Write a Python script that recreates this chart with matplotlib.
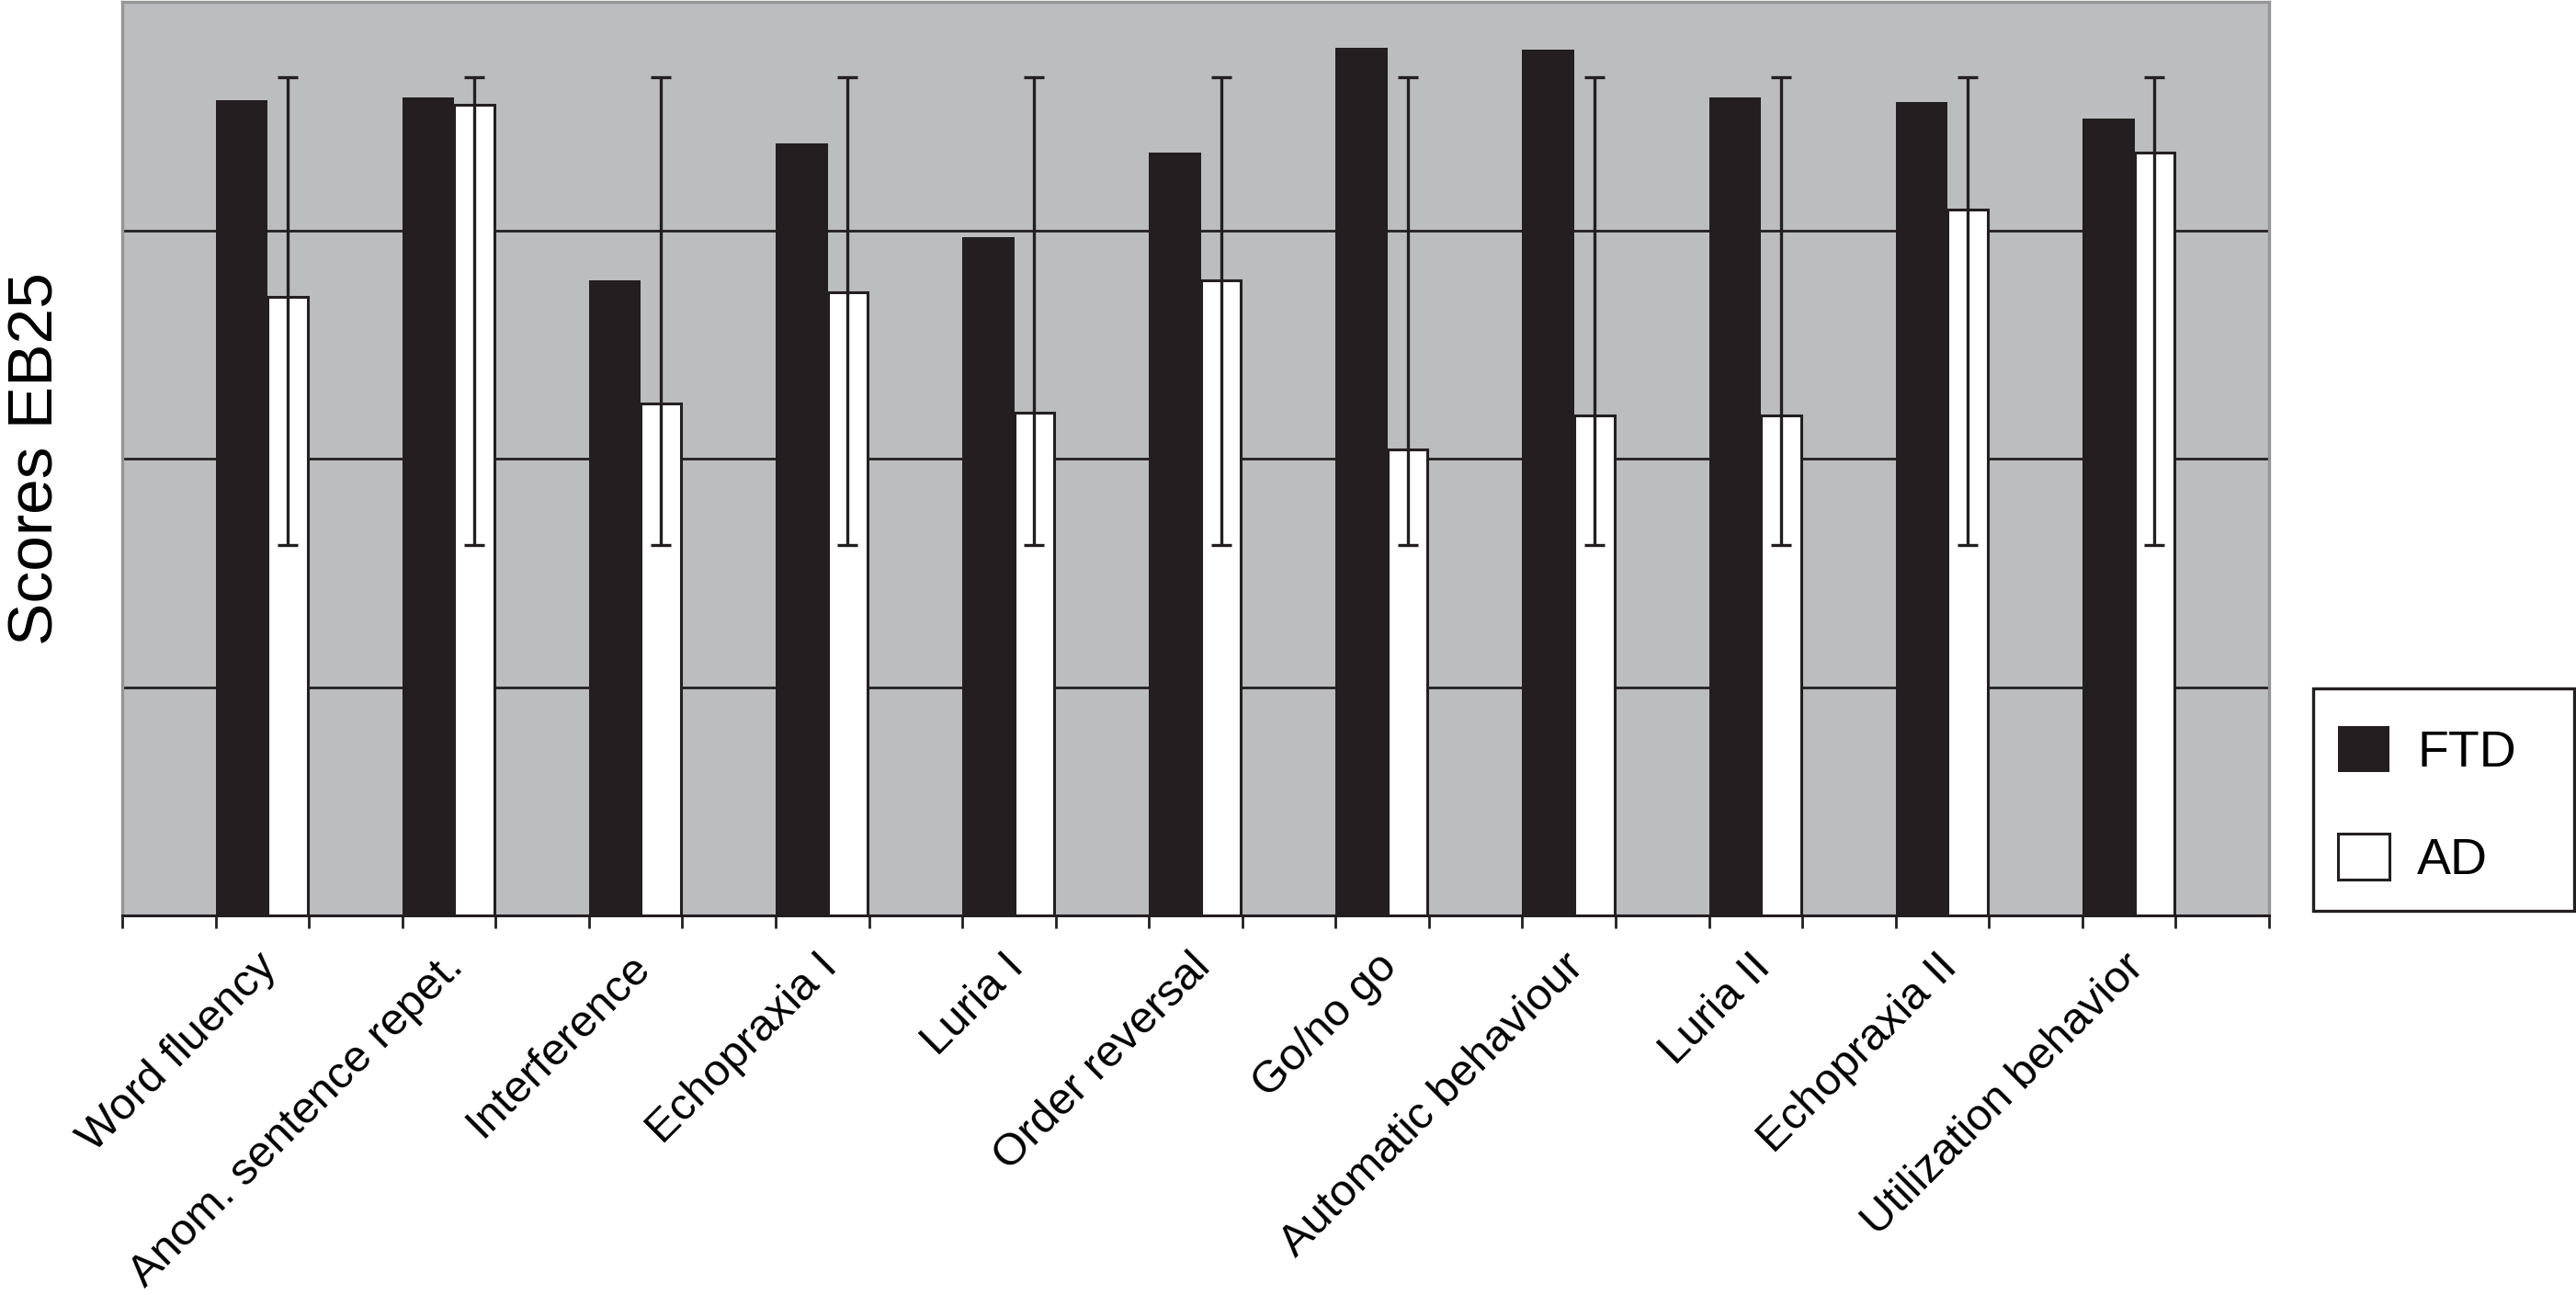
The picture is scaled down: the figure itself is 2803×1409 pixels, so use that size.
import numpy as np
import matplotlib
matplotlib.use("Agg")
import matplotlib.pyplot as plt
from matplotlib.patches import Patch, Rectangle
import matplotlib.transforms as mtransforms

# ---- data ----
categories = ["Word fluency", "Anom. sentence repet.", "Interference", "Echopraxia I",
              "Luria I", "Order reversal", "Go/no go", "Automatic behaviour",
              "Luria II", "Echopraxia II", "Utilization behavior"]
ftd = [3.57, 3.58, 2.78, 3.38, 2.97, 3.34, 3.80, 3.79, 3.58, 3.56, 3.49]
ad = [2.71, 3.55, 2.24, 2.73, 2.20, 2.78, 2.04, 2.19, 2.19, 3.09, 3.34]
err_low = [1.62, 1.62, 1.62, 1.62, 1.62, 1.62, 1.62, 1.62, 1.62, 1.62, 1.62]
err_high = [3.67, 3.67, 3.67, 3.67, 3.67, 3.67, 3.67, 3.67, 3.67, 3.67, 3.67]
series_names = ["FTD", "AD"]

FONT = ["Liberation Sans", "DejaVu Sans"]
plt.rcParams['font.family'] = FONT

W, H = 2803, 1409
DPI = 200
fig = plt.figure(figsize=(W / DPI, H / DPI), dpi=DPI)
ax = fig.add_axes([133 / W, 1 - 996 / H, (2469 - 133) / W, (996 - 2) / H])

dark = "#231f20"
bg = "#bcbdbf"
ax.set_facecolor(bg)

x = np.arange(len(categories))
w_ftd = 0.279
w_ad = 0.214
ax.bar(x - 0.25, ftd, width=w_ftd, align="edge", color=dark, edgecolor=dark,
       linewidth=0, zorder=3)
ax.bar(x - 0.25 + w_ftd, ad, width=w_ad, align="edge", color="white", edgecolor=dark,
       linewidth=1.1, zorder=3)

lo = np.array(err_low)
hi = np.array(err_high)
ctr = (lo + hi) / 2
ax.errorbar(x - 0.25 + w_ftd + w_ad / 2, ctr, yerr=(hi - lo) / 2, fmt="none",
            ecolor=dark, elinewidth=1.2, capsize=3.8, capthick=1.2, zorder=4)

ax.set_xlim(-0.75, len(categories) - 0.25)
ax.set_ylim(0, 4)

# grid
ax.set_yticks([1, 2, 3])
ax.yaxis.grid(True, color=dark, linewidth=1.0)
ax.set_axisbelow(True)
ax.tick_params(axis="y", left=False, labelleft=False)

# x ticks at group edges
edges = sorted(set([-0.75, len(categories) - 0.25] + list(x - 0.25) + list(x + 0.25)))
ax.set_xticks(edges)
ax.set_xticklabels([])
ax.tick_params(axis="x", which="major", direction="out", length=5, width=1.0, color=dark)

ax.set_xticks(x, minor=True)
ax.set_xticklabels(categories, minor=True, rotation=45, ha="right", va="top",
                   rotation_mode="anchor", fontsize=17.6, color="black")
ax.tick_params(axis="x", which="minor", length=0, pad=12)
offset = mtransforms.ScaledTranslation(-2.5 / 72, 0, fig.dpi_scale_trans)
for lab in ax.get_xticklabels(minor=True):
    lab.set_transform(lab.get_transform() + offset)

for side in ["top", "left", "right"]:
    ax.spines[side].set_color("#959595")
    ax.spines[side].set_linewidth(1.2)
ax.spines["bottom"].set_color(dark)
ax.spines["bottom"].set_linewidth(1.1)

fig.text(40 / W, 1 - 499 / H, "Scores EB25", rotation=90, ha="center",
         va="center", fontsize=25, color="black")

# legend frame drawn in figure pixels
fig.patches.append(Rectangle((2517 / W, 1 - 991 / H), (2801 - 2517) / W, (991 - 749) / H,
                             transform=fig.transFigure, facecolor="white",
                             edgecolor=dark, linewidth=1.2, zorder=1))
handles = [Patch(facecolor=dark, edgecolor=dark, linewidth=0),
           Patch(facecolor="white", edgecolor=dark, linewidth=1.1)]
leg = fig.legend(handles, series_names, loc="upper left",
                 bbox_to_anchor=(2544 / W, 1 - 790 / H),
                 fontsize=20, frameon=False, handlelength=1.0,
                 handleheight=1.0, handletextpad=0.55, labelspacing=1.1,
                 borderpad=0, borderaxespad=0)
leg.set_zorder(5)

fig.savefig("out.png", dpi=DPI)
